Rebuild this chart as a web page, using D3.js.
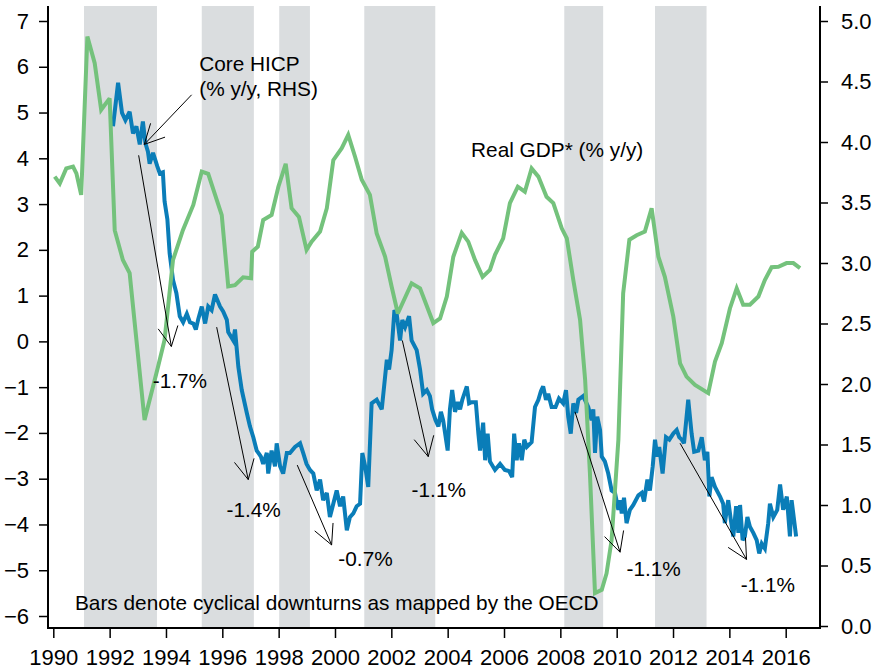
<!DOCTYPE html>
<html>
<head>
<meta charset="utf-8">
<script src="https://cdn.jsdelivr.net/npm/d3@7"></script>
<style>
  html, body { margin: 0; padding: 0; background: #fff; }
  svg { display: block; font-family: "Liberation Sans", Arial, sans-serif; }
</style>
</head>
<body>
<svg id="chart" width="873" height="669"></svg>
<script>
// ---------------- DATA ----------------
// OECD cyclical downturns (start, end) in decimal years
const downturnStart = [1991.09, 1995.27, 1998.02, 2001.04, 2008.14, 2011.36];
const downturnEnd   = [1993.68, 1997.12, 1999.11, 2003.56, 2009.52, 2013.19];

// Real GDP* (% y/y), left axis
const gdpDates = [1990.05,1990.23,1990.46,1990.70,1990.82,1990.99,1991.21,1991.47,1991.70,1992.00,
  1992.18,1992.47,1992.71,1993.24,1993.72,1993.95,1994.25,1994.60,1994.97,1995.27,1995.50,1995.98,
  1996.21,1996.45,1996.74,1997.02,1997.06,1997.26,1997.45,1997.75,1997.99,1998.25,1998.46,1998.72,
  1998.99,1999.17,1999.47,1999.71,1999.94,2000.24,2000.47,2000.71,2000.95,2001.24,2001.48,2001.78,
  2002.01,2002.23,2002.72,2003.02,2003.49,2003.73,2003.97,2004.20,2004.50,2004.73,2004.97,2005.24,
  2005.50,2005.68,2005.97,2006.21,2006.49,2006.74,2006.98,2007.22,2007.51,2007.75,2008.05,2008.23,
  2008.46,2008.70,2008.88,2009.05,2009.23,2009.47,2009.64,2009.82,2010.06,2010.23,2010.45,2010.71,
  2011.00,2011.24,2011.48,2011.71,2012.01,2012.25,2012.48,2012.78,2013.25,2013.49,2013.73,2014.02,
  2014.26,2014.49,2014.73,2015.03,2015.26,2015.50,2015.74,2016.03,2016.27,2016.51];
const gdpValues = [3.60,3.45,3.78,3.82,3.67,3.20,6.66,6.08,5.06,5.31,
  2.43,1.78,1.49,-1.72,-0.55,0.03,1.78,2.43,2.98,3.71,3.66,2.76,
  1.20,1.23,1.40,1.38,1.96,2.07,2.65,2.76,3.38,3.88,2.91,2.72,
  2.00,2.18,2.40,2.91,3.96,4.22,4.51,4.04,3.53,3.20,2.36,1.85,
  1.20,0.61,1.27,1.16,0.40,0.50,0.98,1.85,2.37,2.18,1.78,1.41,
  1.56,1.89,2.25,3.02,3.38,3.27,3.78,3.60,3.16,3.02,2.47,2.25,
  1.34,0.47,-0.84,-2.88,-5.50,-5.43,-5.07,-4.34,-2.15,1.05,2.22,2.32,
  2.40,2.91,1.85,1.41,0.54,-0.48,-0.77,-0.95,-1.13,-0.44,-0.04,0.72,
  1.16,0.80,0.80,0.98,1.34,1.62,1.63,1.71,1.71,1.60];

// Core HICP (% y/y), right axis
const hicpDates = [1992.12,1992.30,1992.44,1992.56,1992.71,1992.83,1992.95,1993.07,1993.18,1993.27,
  1993.36,1993.42,1993.54,1993.69,1993.78,1993.89,1993.95,1994.05,1994.13,1994.25,1994.37,1994.49,
  1994.61,1994.74,1994.85,1994.97,1995.06,1995.15,1995.27,1995.39,1995.50,1995.62,1995.74,1995.92,
  1996.03,1996.16,1996.21,1996.39,1996.45,1996.57,1996.69,1996.87,1996.98,1997.10,1997.22,1997.28,
  1997.37,1997.45,1997.58,1997.63,1997.75,1997.87,1997.93,1998.05,1998.16,1998.29,1998.40,1998.58,
  1998.76,1998.87,1998.99,1999.11,1999.23,1999.35,1999.47,1999.58,1999.71,1999.82,1999.94,2000.06,
  2000.18,2000.29,2000.42,2000.53,2000.65,2000.77,2000.89,2000.97,2001.07,2001.18,2001.30,2001.48,
  2001.66,2001.84,2001.92,2002.01,2002.11,2002.19,2002.31,2002.39,2002.49,2002.63,2002.72,2002.90,
  2003.02,2003.13,2003.26,2003.37,2003.45,2003.57,2003.67,2003.76,2003.84,2004.00,2004.08,2004.16,
  2004.26,2004.36,2004.44,2004.52,2004.68,2004.76,2004.85,2005.00,2005.09,2005.15,2005.26,2005.33,
  2005.42,2005.50,2005.68,2005.86,2006.03,2006.18,2006.29,2006.36,2006.45,2006.53,2006.63,2006.72,
  2006.81,2006.98,2007.10,2007.22,2007.31,2007.39,2007.49,2007.57,2007.69,2007.83,2007.95,2008.10,
  2008.20,2008.28,2008.37,2008.46,2008.56,2008.64,2008.81,2008.99,2009.11,2009.17,2009.23,2009.31,
  2009.41,2009.47,2009.58,2009.70,2009.82,2009.94,2010.06,2010.12,2010.18,2010.26,2010.35,2010.47,
  2010.59,2010.77,2010.89,2010.97,2011.09,2011.18,2011.28,2011.36,2011.44,2011.51,2011.63,2011.75,
  2011.87,2012.01,2012.13,2012.22,2012.31,2012.39,2012.54,2012.66,2012.75,2012.90,2013.02,2013.13,
  2013.22,2013.29,2013.37,2013.49,2013.67,2013.78,2013.84,2013.96,2014.05,2014.14,2014.24,2014.32,
  2014.38,2014.47,2014.55,2014.64,2014.73,2014.85,2014.97,2015.06,2015.15,2015.26,2015.38,2015.44,
  2015.56,2015.70,2015.80,2015.91,2016.04,2016.15,2016.21,2016.37];
const hicpValues = [4.13,4.49,4.24,4.18,4.25,4.07,4.13,3.98,4.17,3.99,
  3.92,3.82,3.91,3.80,3.74,3.75,3.51,3.36,3.08,2.86,2.75,2.56,
  2.51,2.58,2.51,2.50,2.45,2.54,2.64,2.50,2.64,2.61,2.74,2.64,
  2.60,2.53,2.43,2.36,2.45,2.14,1.95,1.76,1.65,1.56,1.45,1.43,
  1.40,1.34,1.43,1.26,1.45,1.32,1.51,1.32,1.26,1.43,1.43,1.48,
  1.51,1.43,1.34,1.29,1.26,1.12,1.21,1.04,1.10,0.90,1.01,1.12,
  0.99,1.07,0.79,0.90,0.93,0.99,1.01,1.43,1.32,1.15,1.84,1.87,
  1.79,2.20,2.12,2.28,2.61,2.58,2.36,2.53,2.47,2.56,2.36,2.28,
  2.12,1.92,1.95,1.90,1.79,1.70,1.65,1.77,1.70,1.45,1.79,1.95,
  1.77,1.85,1.79,1.87,1.98,1.84,1.85,1.85,1.59,1.45,1.68,1.37,
  1.59,1.36,1.29,1.34,1.29,1.28,1.23,1.59,1.37,1.51,1.37,1.54,
  1.48,1.52,1.81,1.87,1.94,1.98,1.87,1.92,1.81,1.81,1.88,1.84,
  1.95,1.73,1.59,1.84,1.76,1.87,1.90,1.81,1.70,1.79,1.43,1.73,
  1.62,1.40,1.36,1.26,1.12,1.10,0.96,1.04,0.93,1.06,0.85,0.96,
  1.00,1.08,1.10,1.03,1.21,1.12,1.32,1.54,1.40,1.48,1.26,1.56,
  1.54,1.59,1.62,1.56,1.54,1.51,1.87,1.59,1.44,1.45,1.56,1.37,
  1.44,1.07,1.23,1.15,1.07,1.01,0.85,1.04,0.88,0.74,0.99,0.77,
  1.00,0.71,0.74,0.90,0.82,0.77,0.71,0.60,0.68,0.64,0.85,1.01,
  0.90,0.96,1.17,0.96,1.07,0.74,1.04,0.74];

// Axis ticks
const xTickYears = [1990,1992,1994,1996,1998,2000,2002,2004,2006,2008,2010,2012,2014,2016];
const leftTicks  = [-6,-5,-4,-3,-2,-1,0,1,2,3,4,5,6,7];
const rightTicks = [0,0.5,1,1.5,2,2.5,3,3.5,4,4.5,5];

// Annotation arrows: tail and tip in (year, right-axis value)
const arrowTailYear = [1994.91, 1993.03, 1995.80, 1998.66, 2002.39, 2008.52, 2012.25];
const arrowTailVal  = [4.39,    3.89,    2.47,    1.33,    2.36,    1.77,    1.51];
const arrowTipYear  = [1993.23, 1994.19, 1996.92, 1999.88, 2003.31, 2010.12, 2014.61];
const arrowTipVal   = [3.98,    2.31,    1.21,    0.67,    1.40,    0.61,    0.55];
// Change labels: text and anchor (year, right-axis value of baseline)
const changeLabels  = ["-1.7%", "-1.4%", "-0.7%", "-1.1%", "-1.1%", "-1.1%"];
const changeYear    = [1993.53, 1996.15, 2000.12, 2002.72, 2010.35, 2014.40];
const changeVal     = [1.97,    0.90,    0.50,    1.07,    0.41,    0.28];

// ---------------- CHART ----------------
const svg = d3.select("#chart");
const plot = { left: 48, right: 820, top: 6, bottom: 628 };

const x  = d3.scaleLinear().domain([1990, 2016]).range([53.3, 785.7]);
const yL = d3.scaleLinear().domain([-6, 7]).range([616, 21]);
const yR = d3.scaleLinear().domain([0, 5]).range([626, 21]);

const FONT = 20.8;
const TICK_FONT = 22;

// Downturn bars
svg.append("g").selectAll("rect")
  .data(downturnStart.map((s, i) => [s, downturnEnd[i]]))
  .join("rect")
  .attr("x", d => x(d[0]))
  .attr("width", d => x(d[1]) - x(d[0]))
  .attr("y", plot.top)
  .attr("height", plot.bottom - plot.top)
  .attr("fill", "#dadddf");

// Lines
const hicp = hicpDates.map((d, i) => [d, hicpValues[i]]);
const gdp = gdpDates.map((d, i) => [d, gdpValues[i]]);

svg.append("path")
  .datum(hicp)
  .attr("fill", "none")
  .attr("stroke", "#0a7db8")
  .attr("stroke-width", 4)
  .attr("stroke-linejoin", "miter")
  .attr("stroke-miterlimit", 3)
  .attr("d", d3.line().x(d => x(d[0])).y(d => yR(d[1])));

svg.append("path")
  .datum(gdp)
  .attr("fill", "none")
  .attr("stroke", "#74c27c")
  .attr("stroke-width", 4)
  .attr("stroke-linejoin", "miter")
  .attr("stroke-miterlimit", 3)
  .attr("d", d3.line().x(d => x(d[0])).y(d => yL(d[1])));

// Arrows
const arrows = svg.append("g").attr("stroke", "#000").attr("stroke-width", 1).attr("fill", "none");
arrowTailYear.forEach((ty, i) => {
  const x1 = x(ty), y1 = yR(arrowTailVal[i]);
  const x2 = x(arrowTipYear[i]), y2 = yR(arrowTipVal[i]);
  arrows.append("line").attr("x1", x1).attr("y1", y1).attr("x2", x2).attr("y2", y2);
  const ang = Math.atan2(y1 - y2, x1 - x2);
  const len = 22, spread = 27 * Math.PI / 180;
  [ang - spread, ang + spread].forEach(a => {
    arrows.append("line")
      .attr("x1", x2).attr("y1", y2)
      .attr("x2", x2 + len * Math.cos(a)).attr("y2", y2 + len * Math.sin(a));
  });
});

// Text labels
const txt = svg.append("g").attr("font-size", FONT).attr("fill", "#000");
changeLabels.forEach((t, i) => {
  txt.append("text").attr("x", x(changeYear[i])).attr("y", yR(changeVal[i])).text(t);
});
txt.append("text").attr("x", x(1995.18)).attr("y", yR(4.59)).text("Core HICP");
txt.append("text").attr("x", x(1995.18)).attr("y", yR(4.38)).text("(% y/y, RHS)");
txt.append("text").attr("x", x(2004.83)).attr("y", yL(4.03)).text("Real GDP* (% y/y)");
txt.append("text").attr("x", x(1990.77)).attr("y", yL(-5.87)).text("Bars denote cyclical downturns as mapped by the OECD");

// Axes
const axisStyle = g => {
  g.select(".domain").remove();
  g.selectAll(".tick line").attr("stroke", "#000").attr("stroke-width", 1.5);
  g.selectAll(".tick text").attr("font-size", TICK_FONT).attr("fill", "#000")
    .attr("font-family", "'Liberation Sans', Arial, sans-serif");
};

svg.append("g")
  .attr("transform", `translate(${plot.left},0)`)
  .call(d3.axisLeft(yL).tickValues(leftTicks).tickSize(9).tickPadding(10).tickFormat(d3.format("d")))
  .call(axisStyle);

svg.append("g")
  .attr("transform", `translate(${plot.right},0)`)
  .call(d3.axisRight(yR).tickValues(rightTicks).tickSize(8).tickPadding(13).tickFormat(d3.format(".1f")))
  .call(axisStyle);

svg.append("g")
  .attr("transform", `translate(0,${plot.bottom})`)
  .call(d3.axisBottom(x).tickValues(xTickYears).tickSize(10).tickPadding(11).tickFormat(d3.format("d")))
  .call(axisStyle);

// Axis lines
const axisLines = svg.append("g").attr("stroke", "#000").attr("stroke-width", 2);
axisLines.append("line").attr("x1", plot.left).attr("x2", plot.left).attr("y1", plot.top).attr("y2", plot.bottom + 1);
axisLines.append("line").attr("x1", plot.right).attr("x2", plot.right).attr("y1", plot.top).attr("y2", plot.bottom + 1);
axisLines.append("line").attr("x1", plot.left - 1).attr("x2", plot.right + 1).attr("y1", plot.bottom).attr("y2", plot.bottom);
</script>
</body>
</html>
